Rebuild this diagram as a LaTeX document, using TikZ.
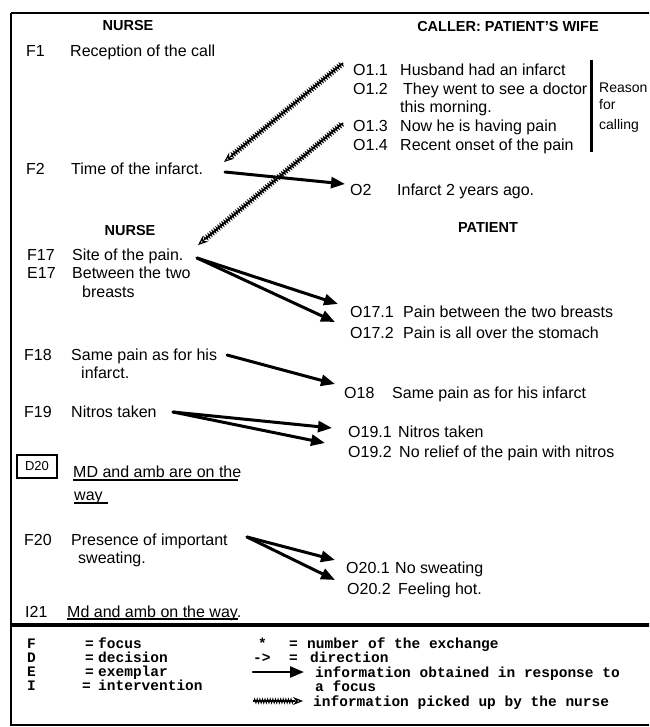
\documentclass[tikz,border=0pt]{standalone}
\usepackage{fontspec}
\setmainfont{Liberation Sans}
\newfontfamily\legfont{Liberation Mono}
\usetikzlibrary{arrows.meta,decorations.pathmorphing,calc}
\begin{document}
\begin{tikzpicture}[x=1pt,y=-1pt,
 txt/.style={anchor=base west, inner sep=0pt, font=\fontsize{16}{19}\selectfont},
 side/.style={anchor=base west, inner sep=0pt, font=\fontsize{14}{17}\selectfont},
 hdr/.style={anchor=base, inner sep=0pt, font=\bfseries\fontsize{14.5}{17}\selectfont},
 leg/.style={anchor=base west, inner sep=0pt, font=\legfont\bfseries\fontsize{14.5}{17}\selectfont},
 farrow/.style={line width=3pt, line cap=round, -{Triangle[length=14pt,width=11pt]}},
 wspine/.style={line width=1.2pt, shorten >=8pt},
 wavy/.style={line width=1pt, decorate, decoration={zigzag,amplitude=2pt,segment length=2.6pt,post length=9pt,pre length=1pt}, -{Stealth[open,length=10pt,width=8pt,line width=1.2pt]}},
 uline/.style={line width=1.6pt},
 frame/.style={line width=2.5pt}
]
\useasboundingbox (0,0) rectangle (649,727);
\clip (0,0) rectangle (649,727);
% frames
\draw[frame] (11,13) -- (660,13);
\draw[frame] (11,13) -- (11,725) -- (660,725);
\draw[line width=4pt] (11,625) -- (660,625);

% headers
\node[hdr] (h1) at (128,31) {NURSE};
\node[hdr] (h2) at (508,32) {CALLER: PATIENT'S WIFE};
\node[hdr] (h3) at (130,235) {NURSE};
\node[hdr] (h4) at (488,233) {PATIENT};

% left column
\node[txt] (f1) at (26,57) {F1};
\node[txt] (f1t) at (70,57) {Reception of the call};
\node[txt] (f2) at (26,175) {F2};
\node[txt] (f2t) at (71,175) {Time of the infarct.};
\node[txt] (f17) at (27,260) {F17};
\node[txt] (f17t) at (72,260) {Site of the pain.};
\node[txt] (e17) at (27,278) {E17};
\node[txt] (e17t) at (72,278) {Between the two};
\node[txt] (e17u) at (82,297) {breasts};
\node[txt] (f18) at (24,360) {F18};
\node[txt] (f18t) at (71,360) {Same pain as for his};
\node[txt] (f18u) at (81,378) {infarct.};
\node[txt] (f19) at (24,417) {F19};
\node[txt] (f19t) at (71,417) {Nitros taken};
\node[draw, line width=2.5pt, minimum width=40pt, minimum height=23pt, inner sep=0pt,
      font=\fontsize{13}{15}\selectfont] (d20) at (37,466.5) {D20};
\node[txt] (d20t) at (73,477) {MD and amb are on the};
\node[txt] (d20u) at (74,500) {way};
\draw[uline] ($(d20t.base west)+(0,3)$) -- ($(d20t.base west)+(165,3)$);
\draw[uline] ($(d20u.base west)+(0,3)$) -- ($(d20u.base west)+(34,3)$);
\node[txt] (f20) at (24,545) {F20};
\node[txt] (f20t) at (71,545) {Presence of important};
\node[txt] (f20u) at (78,563) {sweating.};
\node[txt] (i21) at (25,617) {I21};
\node[txt] (i21t) at (67,617) {Md and amb on the way.};
\draw[uline] ($(i21t.base west)+(0,2)$) -- ($(i21t.base west)+(171,2)$);

% right column
\node[txt] (o11) at (353,76) {O1.1};
\node[txt] (o11t) at (400,76) {Husband had an infarct};
\node[txt] (o12) at (353,95) {O1.2};
\node[txt] (o12t) at (403,95) {They went to see a doctor};
\node[txt] (o12u) at (400,113) {this morning.};
\node[txt] (o13) at (353,132) {O1.3};
\node[txt] (o13t) at (400,132) {Now he is having pain};
\node[txt] (o14) at (353,151) {O1.4};
\node[txt] (o14t) at (400,151) {Recent onset of the pain};
\coordinate (bartop) at (591,60);
\coordinate (barbot) at (591,152);
\draw[line width=3pt] (bartop) -- (barbot);
\node[side] (r1) at (599,93) {Reason};
\node[side] (r2) at (599,110) {for};
\node[side] (r3) at (599,130) {calling};
\node[txt] (o2) at (350,196) {O2};
\node[txt] (o2t) at (397,196) {Infarct 2 years ago.};
\node[txt] (o171) at (350,317) {O17.1};
\node[txt] (o171t) at (403,317) {Pain between the two breasts};
\node[txt] (o172) at (350,338) {O17.2};
\node[txt] (o172t) at (403,338) {Pain is all over the stomach};
\node[txt] (o18) at (344,398) {O18};
\node[txt] (o18t) at (392,398) {Same pain as for his infarct};
\node[txt] (o191) at (348,437) {O19.1};
\node[txt] (o191t) at (398,437) {Nitros taken};
\node[txt] (o192) at (348,457) {O19.2};
\node[txt] (o192t) at (399,457) {No relief of the pain with nitros};
\node[txt] (o201) at (346,573) {O20.1};
\node[txt] (o201t) at (395,573) {No sweating};
\node[txt] (o202) at (347,594) {O20.2};
\node[txt] (o202t) at (398,594) {Feeling hot.};

% solid arrows
\draw[farrow] ($(f2t.base west)+(154,-3)$) -- ($(o2.base west)+(-5,-12)$);
\draw[farrow] ($(f17t.base west)+(125,-2)$) -- ($(o171.base west)+(-12,-13)$);
\draw[farrow] ($(f17t.base west)+(125,-2)$) -- ($(o172.base west)+(-15,-16)$);
\draw[farrow] ($(f18t.base west)+(156,-5)$) -- ($(o18.base west)+(-9,-14)$);
\draw[farrow] ($(f19t.base west)+(102,-5)$) -- ($(o191.base west)+(-16,-9)$);
\draw[farrow] ($(f19t.base west)+(102,-5)$) -- ($(o192.base west)+(-23,-14)$);
\draw[farrow] ($(f20t.base west)+(176,-8)$) -- ($(o201.base west)+(-11,-13)$);
\draw[farrow] ($(f20t.base west)+(176,-8)$) -- ($(o202.base west)+(-12,-14)$);

% wavy arrows
\draw[wspine] ($(o11.base west)+(-10,-13)$) -- ($(f2t.base west)+(153,-13)$);
\draw[wavy] ($(o11.base west)+(-10,-13)$) -- ($(f2t.base west)+(153,-13)$);
\draw[wspine] ($(o13.base west)+(-10,-9)$) -- ($(f17t.base west)+(126,-15)$);
\draw[wavy] ($(o13.base west)+(-10,-9)$) -- ($(f17t.base west)+(126,-15)$);

% legend
\node[leg] (lF) at (27,648) {F};
\node[leg] (lFe) at (85,648) {=};
\node[leg] (lFt) at (98,648) {focus};
\node[leg] (lD) at (27,662) {D};
\node[leg] (lDe) at (85,662) {=};
\node[leg] (lDt) at (98,662) {decision};
\node[leg] (lE) at (27,676) {E};
\node[leg] (lEe) at (85,676) {=};
\node[leg] (lEt) at (98,676) {exemplar};
\node[leg] (lI) at (27,690) {I};
\node[leg] (lIe) at (82,690) {=};
\node[leg] (lIt) at (98,690) {intervention};
\node[leg] (ls) at (258,648) {*};
\node[leg] (lse) at (289,648) {=};
\node[leg] (lst) at (307,648) {number of the exchange};
\node[leg] (ld) at (253,662) {->};
\node[leg] (lde) at (289,662) {=};
\node[leg] (ldt) at (310,662) {direction};
\node[leg] (la) at (315,677) {information obtained in response to};
\node[leg] (la2) at (315,691) {a focus};
\node[leg] (lw) at (313,706) {information picked up by the nurse};
\draw[farrow, line width=2.5pt] ($(la.base west)+(-62,-5)$) -- ($(la.base west)+(-11,-5)$);
\draw[wspine] ($(lw.base west)+(-60,-5)$) -- ($(lw.base west)+(-10,-5)$);
\draw[wavy] ($(lw.base west)+(-60,-5)$) -- ($(lw.base west)+(-10,-5)$);
\end{tikzpicture}
\end{document}
